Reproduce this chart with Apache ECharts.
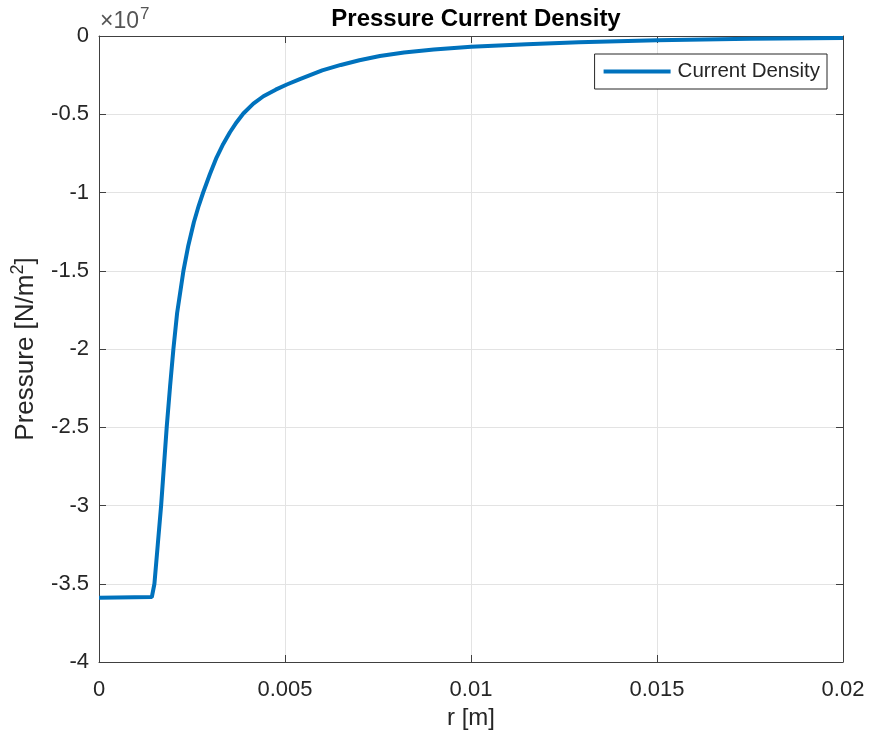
<!DOCTYPE html>
<html>
<head>
<meta charset="utf-8">
<script src="https://cdn.jsdelivr.net/npm/echarts@6/dist/echarts.min.js"></script>
<style>
  html, body { margin: 0; padding: 0; background: #fff; }
  #main { width: 870px; height: 743px; }
</style>
</head>
<body>
<div id="main"></div>
<script>
// 半径 r [m]
var radius = [0, 0.00142, 0.00149, 0.00158, 0.00167, 0.00182, 0.00191, 0.00200, 0.00210,
  0.00227, 0.00240, 0.00255, 0.00268, 0.00280, 0.00298, 0.00316, 0.00334, 0.00352, 0.00370,
  0.00388, 0.00415, 0.00442, 0.00475, 0.00505, 0.0054, 0.0060, 0.0065, 0.0070, 0.00755,
  0.0082, 0.0090, 0.0100, 0.0115, 0.0129, 0.0150, 0.0175, 0.0200]
// 压力 [N/m^2]
var pressure = [-3.59e7, -3.585e7, -3.5e7, -3.25e7, -3.0e7, -2.5e7, -2.24e7, -2.0e7, -1.77e7,
  -1.5e7, -1.34e7, -1.19e7, -1.085e7, -1.0e7, -0.883e7, -0.777e7, -0.69e7, -0.615e7, -0.551e7,
  -0.495e7, -0.432e7, -0.385e7, -0.343e7, -0.31e7, -0.275e7, -0.22e7, -0.185e7, -0.155e7, -0.128e7,
  -0.105e7, -0.087e7, -0.068e7, -0.052e7, -0.040e7, -0.027e7, -0.018e7, -0.012e7]

var data = radius.map(function (r, i) { return [r, pressure[i]] })

var myChart = echarts.init(document.getElementById('main'))
var font = 'Liberation Sans, Arial, sans-serif'
var axisColor = '#404040'
var tickSize = 22

var option = {
  animation: false,
  backgroundColor: '#fff',
  title: {
    text: 'Pressure Current Density',
    left: 471,
    textAlign: 'center',
    top: 2,
    textStyle: { fontFamily: font, fontSize: 24, fontWeight: 'bold', color: '#000' }
  },
  legend: {
    right: 43,
    top: 54,
    orient: 'vertical',
    backgroundColor: '#fff',
    borderColor: '#262626',
    borderWidth: 1,
    borderRadius: 0,
    padding: [7, 7, 7, 9],
    itemWidth: 67,
    itemHeight: 4,
    itemGap: 0,
    textStyle: { fontFamily: font, fontSize: 20.5, color: '#262626', padding: [0, 0, 0, 2] },
    data: [{ name: 'Current Density', icon: 'rect' }]
  },
  grid: { left: 99, right: 27, top: 36, bottom: 81 },
  graphic: [{
    type: 'text',
    left: 100,
    top: 6,
    style: {
      text: '×10{s|7}',
      fontFamily: font,
      fontSize: 23,
      fill: '#555',
      rich: { s: { fontSize: 17, fill: '#555', verticalAlign: 'top', padding: [0, 0, 14, 1] } }
    }
  }],
  xAxis: [{
    type: 'value',
    min: 0,
    max: 0.02,
    interval: 0.005,
    name: 'r [m]',
    nameLocation: 'middle',
    nameGap: 44,
    nameTextStyle: { fontFamily: font, fontSize: 24, color: '#262626' },
    axisLine: { show: true, onZero: false, lineStyle: { color: axisColor, width: 1 } },
    axisTick: { show: true, inside: true, length: 7, lineStyle: { color: axisColor } },
    axisLabel: {
      fontFamily: font, fontSize: tickSize, color: '#262626', margin: 17,
      formatter: function (v) { return String(v) }
    },
    splitLine: { show: true, lineStyle: { color: '#e3e3e3', width: 1 } }
  }, {
    type: 'value',
    position: 'top',
    min: 0,
    max: 0.02,
    interval: 0.005,
    axisLine: { show: true, onZero: false, lineStyle: { color: axisColor, width: 1 } },
    axisTick: { show: true, inside: true, length: 7, lineStyle: { color: axisColor } },
    axisLabel: { show: false },
    splitLine: { show: false }
  }],
  yAxis: [{
    type: 'value',
    min: -4e7,
    max: 0,
    interval: 0.5e7,
    name: 'Pressure [N/m{s|2}]',
    nameLocation: 'middle',
    nameGap: 57,
    nameTextStyle: {
      fontFamily: font, fontSize: 26, color: '#262626',
      rich: { s: { fontSize: 18, verticalAlign: 'top', padding: [0, 0, 15, 0] } }
    },
    axisLine: { show: true, onZero: false, lineStyle: { color: axisColor, width: 1 } },
    axisTick: { show: true, inside: true, length: 7, lineStyle: { color: axisColor } },
    axisLabel: {
      fontFamily: font, fontSize: tickSize, color: '#262626', margin: 10,
      formatter: function (v) { return String(Math.round(v / 1e6) / 10) }
    },
    splitLine: { show: true, lineStyle: { color: '#e3e3e3', width: 1 } }
  }, {
    type: 'value',
    position: 'right',
    min: -4e7,
    max: 0,
    interval: 0.5e7,
    axisLine: { show: true, onZero: false, lineStyle: { color: axisColor, width: 1 } },
    axisTick: { show: true, inside: true, length: 7, lineStyle: { color: axisColor } },
    axisLabel: { show: false },
    splitLine: { show: false }
  }],
  series: [{
    name: 'Current Density',
    type: 'line',
    data: data,
    showSymbol: false,
    smooth: false,
    color: '#0072BD',
    lineStyle: { color: '#0072BD', width: 4 },
    z: 5
  }]
}

myChart.setOption(option)
</script>
</body>
</html>
